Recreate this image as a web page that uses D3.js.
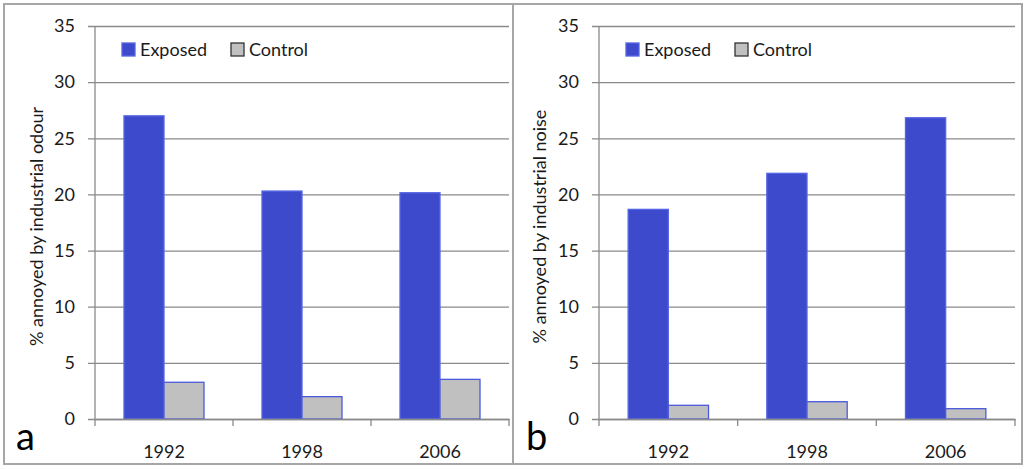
<!DOCTYPE html>
<html>
<head>
<meta charset="utf-8">
<script src="https://cdn.jsdelivr.net/npm/d3@7"></script>
<style>
  body { margin: 0; background: #fff; }
  svg { display: block; font-family: Lato, "Open Sans", sans-serif; }
</style>
</head>
<body>
<svg id="chart" width="1024" height="469"></svg>
<script>
const years = ['1992', '1998', '2006'];
const seriesNames = ['Exposed', 'Control'];
const odourExposed = [27.0, 20.3, 20.15];
const odourControl = [3.27, 1.99, 3.53];
const noiseExposed = [18.67, 21.88, 26.83];
const noiseControl = [1.22, 1.54, 0.92];
const yTicks = [0, 5, 10, 15, 20, 25, 30, 35];

const fills = { Exposed: '#3d4acb', Control: '#c0c0c0' };
const strokes = { Exposed: '#5566e4', Control: '#4b5bdb' };
const gridColor = '#8a8a8a';

const svg = d3.select('#chart');

// outer frame and divider
svg.append('rect')
  .attr('x', 4).attr('y', 4).attr('width', 1018).attr('height', 460)
  .attr('fill', 'none').attr('stroke', '#a6a6a6').attr('stroke-width', 2);
svg.append('line')
  .attr('x1', 513).attr('x2', 513).attr('y1', 4).attr('y2', 464)
  .attr('stroke', '#a6a6a6').attr('stroke-width', 2);

function drawPanel(opts) {
  const { left, right, exposed, control, label, letter, labelX, letterX, legendX } = opts;
  const top = 26, bottom = 419;
  const g = svg.append('g');

  const y = d3.scaleLinear().domain([0, 35]).range([bottom, top]);
  const x = d3.scaleBand().domain(years).range([left, right]).paddingInner(0).paddingOuter(0);
  const xs = d3.scaleBand().domain(seriesNames).range([0, x.bandwidth()])
    .paddingInner(0).paddingOuter(0.725);

  // y axis with gridlines
  const yAxis = g.append('g')
    .attr('transform', `translate(${left},0)`)
    .call(d3.axisLeft(y).tickValues(yTicks).tickSizeInner(-(right - left)).tickSizeOuter(0).tickPadding(20));
  yAxis.select('.domain').remove();
  yAxis.selectAll('.tick line')
    .attr('x1', -7)
    .attr('stroke', gridColor).attr('stroke-width', 1.3);
  yAxis.selectAll('.tick text')
    .attr('font-size', 18).attr('fill', '#1a1a1a')
    .attr('font-family', 'Lato, "Open Sans", sans-serif');
  g.append('line')
    .attr('x1', left).attr('x2', left).attr('y1', top).attr('y2', bottom)
    .attr('stroke', gridColor).attr('stroke-width', 1.3);

  // bars
  const rows = years.map((yr, i) => ({ year: yr, Exposed: exposed[i], Control: control[i] }));
  g.append('g').selectAll('g')
    .data(rows)
    .join('g')
    .attr('transform', d => `translate(${x(d.year)},0)`)
    .selectAll('rect')
    .data(d => seriesNames.map(s => ({ key: s, value: d[s] })))
    .join('rect')
    .attr('x', d => xs(d.key))
    .attr('y', d => y(d.value))
    .attr('width', xs.bandwidth())
    .attr('height', d => y(0) - y(d.value))
    .attr('fill', d => fills[d.key])
    .attr('stroke', d => strokes[d.key])
    .attr('stroke-width', 1.3);

  // x axis
  const xAxis = g.append('g')
    .attr('transform', `translate(0,${bottom})`)
    .call(d3.axisBottom(x).tickSize(0).tickPadding(26));
  xAxis.select('.domain').attr('stroke', gridColor).attr('stroke-width', 1.3);
  xAxis.selectAll('.tick text')
    .attr('font-size', 18).attr('fill', '#1a1a1a')
    .attr('font-family', 'Lato, "Open Sans", sans-serif');
  const bounds = years.map(yr => x(yr)).concat([right]);
  g.append('g').selectAll('line')
    .data(bounds)
    .join('line')
    .attr('x1', d => d).attr('x2', d => d)
    .attr('y1', bottom).attr('y2', bottom + 7)
    .attr('stroke', gridColor).attr('stroke-width', 1.3);

  // y label
  g.append('text')
    .attr('transform', `translate(${labelX},${(top + bottom) / 2 + 4}) rotate(-90)`)
    .attr('text-anchor', 'middle')
    .attr('font-size', 18).attr('fill', '#1a1a1a')
    .text(label);

  // legend
  const legend = g.append('g').attr('transform', `translate(${legendX},43)`);
  const legendItems = [
    { key: 'Exposed', dx: 0, stroke: strokes.Exposed },
    { key: 'Control', dx: 109, stroke: '#333' }
  ];
  const li = legend.selectAll('g').data(legendItems).join('g')
    .attr('transform', d => `translate(${d.dx},0)`);
  li.append('rect')
    .attr('width', 13).attr('height', 13)
    .attr('fill', d => fills[d.key])
    .attr('stroke', d => d.stroke).attr('stroke-width', 1.3);
  li.append('text')
    .attr('x', 18).attr('y', 13)
    .attr('font-size', 18).attr('fill', '#1a1a1a')
    .text(d => d.key);

  // panel letter
  g.append('text')
    .attr('x', letterX).attr('y', 450)
    .attr('font-size', 38).attr('fill', '#000')
    .text(letter);
}

drawPanel({
  left: 95, right: 509, exposed: odourExposed, control: odourControl,
  label: '% annoyed by industrial odour', letter: 'a',
  labelX: 43, letterX: 16, legendX: 122
});
drawPanel({
  left: 599, right: 1015, exposed: noiseExposed, control: noiseControl,
  label: '% annoyed by industrial noise', letter: 'b',
  labelX: 546, letterX: 526, legendX: 626
});
</script>
</body>
</html>
